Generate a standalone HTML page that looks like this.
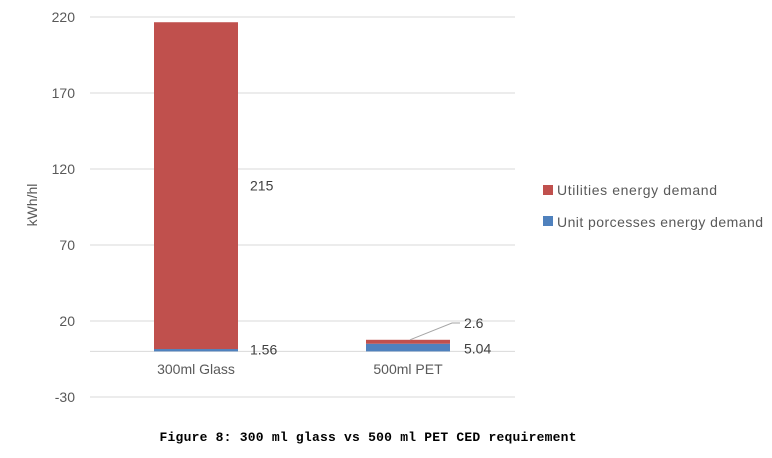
<!DOCTYPE html>
<html><head><meta charset="utf-8"><style>
body{margin:0;background:#fff;}
svg{display:block;font-family:"Liberation Sans",sans-serif;}
</style></head><body>
<svg id="chart" width="772" height="458">
<g id="grid"></g><g id="bars"></g><g id="labels"></g>
<text x="37" y="205" transform="rotate(-90 37 205)" text-anchor="middle" font-size="14" fill="#595959">kWh/hl</text>
<g>
<rect x="543" y="185" width="10" height="10" fill="#c0504d"/>
<text x="557" y="195" font-size="14" fill="#595959" textLength="160">Utilities energy demand</text>
<rect x="543" y="216" width="10" height="10" fill="#4f81bd"/>
<text x="557" y="227" font-size="14" fill="#595959" textLength="206">Unit porcesses energy demand</text>
</g>
<text x="368" y="441" text-anchor="middle" font-size="13" font-weight="bold" font-family="Liberation Mono, monospace" fill="#000" textLength="417">Figure 8: 300 ml glass vs 500 ml PET CED requirement</text>
</svg>
<script>
const categories=["300ml Glass","500ml PET"];
const unitValues=[1.56,5.04];
const utilValues=[215,2.6];
const ticks=[220,170,120,70,20,-30];
const ns="http://www.w3.org/2000/svg";
const y=v=>351.4-v*1.52;
const cx=i=>196+i*212;
function mk(tag,attrs,parent,text){const e=document.createElementNS(ns,tag);for(const k in attrs)e.setAttribute(k,attrs[k]);if(text!==undefined)e.textContent=text;document.getElementById(parent).appendChild(e);return e;}
ticks.forEach(t=>{
 const l=mk('line',{x1:90,x2:515,y1:y(t),y2:y(t),stroke:'#d9d9d9','stroke-width':1},'grid');
 
 
 const tx=mk('text',{x:75,y:y(t)+5,'text-anchor':'end','font-size':14,fill:'#595959'},'grid',String(t));
 
 
});
const ax=mk('line',{x1:90,x2:515,y1:y(0),y2:y(0),stroke:'#d9d9d9','stroke-width':1},'grid');


categories.forEach((c,i)=>{
 const x0=cx(i)-42,w=84;
 const b=mk('rect',{x:x0,y:y(unitValues[i]),width:w,height:y(0)-y(unitValues[i]),fill:'#4f81bd'},'bars');
 
 
 const top=unitValues[i]+utilValues[i];
 const r=mk('rect',{x:x0,y:y(top),width:w,height:y(unitValues[i])-y(top),fill:'#c0504d'},'bars');
 
 
 const cl=mk('text',{x:cx(i),y:374,'text-anchor':'middle','font-size':14,fill:'#595959'},'labels',c);
 
 
});
let t1=mk('text',{x:250,y:y(utilValues[0]/2+unitValues[0])+5,'font-size':14,fill:'#404040'},'labels',String(utilValues[0]));


let t2=mk('text',{x:250,y:y(0)+3,'font-size':14,fill:'#404040'},'labels',String(unitValues[0]));


let t3=mk('text',{x:464,y:y(unitValues[1])+10,'font-size':14,fill:'#404040'},'labels',String(unitValues[1]));


let ln=mk('polyline',{points:`410,${y(unitValues[1]+utilValues[1])} 452,323 460,323`,fill:'none',stroke:'#a6a6a6','stroke-width':1},'labels');


let t4=mk('text',{x:464,y:328,'font-size':14,fill:'#404040'},'labels',String(utilValues[1]));


</script>
</body></html>
